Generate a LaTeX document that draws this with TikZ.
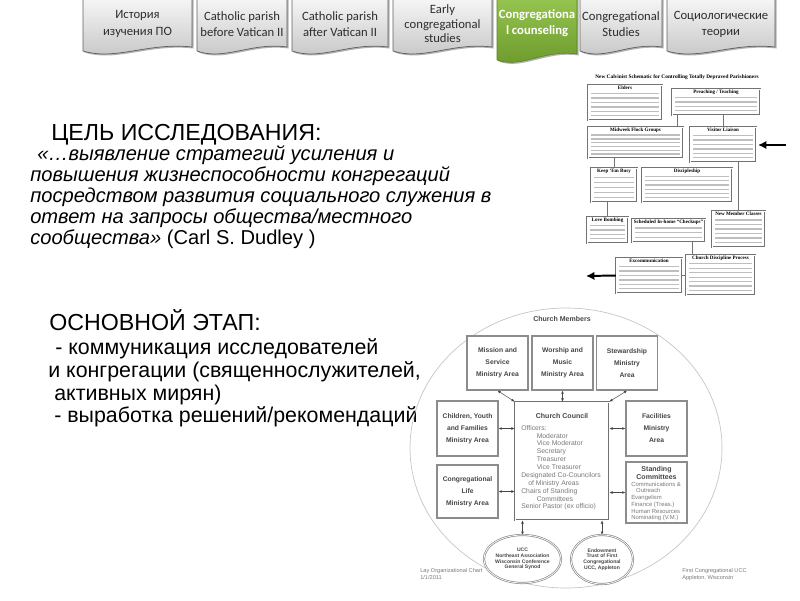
\documentclass[tikz,border=0pt]{standalone}
\usepackage{fontspec}
\setmainfont{Liberation Sans}
\newfontfamily\tabfont{Carlito}
\newfontfamily\schemfont{Liberation Serif}
\usetikzlibrary{arrows.meta,shapes.geometric,calc}
\definecolor{TabTop}{RGB}{246,246,246}
\definecolor{TabBottom}{RGB}{196,196,196}
\definecolor{TabEdge}{RGB}{95,95,95}
\definecolor{TabText}{RGB}{45,45,45}
\definecolor{GreenTop}{RGB}{150,196,80}
\definecolor{GreenBottom}{RGB}{106,152,42}
\definecolor{ChartEdge}{RGB}{140,140,140}
\definecolor{ChartText}{RGB}{70,70,70}
\definecolor{OfficerText}{RGB}{120,120,120}
\definecolor{SchemEdge}{RGB}{115,115,115}
\definecolor{SchemFill}{RGB}{190,190,190}
\tikzset{
    tabshape/.style={draw=TabEdge, line width=0.5pt, top color=TabTop, bottom color=TabBottom},
    tabshadow/.style={fill=black!30},
    greentab/.style={draw=GreenBottom!85!black, line width=0.4pt, top color=GreenTop, bottom color=GreenBottom},
    tablabel/.style={text=TabText, align=center, inner sep=0pt},
    greenlabel/.style={text=white, align=center, inner sep=0pt, font=\tabfont\bfseries\fontsize{9}{11.5}\selectfont},
    heading/.style={anchor=base west, inner sep=0pt, font=\fontsize{16.5}{18}\selectfont},
    quoteline/.style={anchor=base west, inner sep=0pt, font=\itshape\fontsize{14.3}{16}\selectfont},
    stageline/.style={anchor=base west, inner sep=0pt, font=\fontsize{15.2}{16}\selectfont},
    schembox/.style={draw=SchemEdge, line width=0.3pt, double=white, double distance=0.45pt, fill=white, inner sep=0pt},
    schemtitle/.style={inner sep=0pt, font=\schemfont\bfseries\fontsize{3.6}{4}\selectfont},
    filler/.style={draw=SchemFill, line width=0.95pt},
    schemline/.style={draw=SchemEdge, line width=0.4pt},
    bigarr/.style={-{Latex[length=6pt,width=6pt]}, line width=1.4pt, black},
    members/.style={ellipse, draw=gray!45, line width=0.5pt, inner sep=0pt, minimum width=312*0.025cm, minimum height=280*0.025cm},
    areabox/.style={draw=ChartEdge, line width=0.9pt, fill=white, align=center, inner sep=0pt, text=ChartText, font=\bfseries\fontsize{4.8}{8.5}\selectfont, minimum width=61*0.025cm, minimum height=54*0.025cm},
    councilbox/.style={draw=ChartEdge!80!black, line width=0.6pt, double=white, double distance=0.7pt, fill=white, inner sep=0pt, minimum width=94*0.025cm, minimum height=118*0.025cm},
    charttitle/.style={inner sep=0pt, align=center, text=ChartText, font=\bfseries\fontsize{5}{6}\selectfont},
    officers/.style={anchor=north west, align=left, inner sep=0pt, text=OfficerText, font=\fontsize{4.85}{5.6}\selectfont},
    committees/.style={anchor=north west, align=left, inner sep=0pt, text=OfficerText, font=\fontsize{4.2}{4.8}\selectfont},
    twoarr/.style={{Latex[length=2.2pt,width=2pt]}-{Latex[length=2.2pt,width=2pt]}, line width=0.35pt, ChartText},
    bodyoval/.style={ellipse, draw=ChartEdge, line width=0.5pt, double=white, double distance=0.5pt, fill=white, inner sep=0pt, align=center, text=ChartText, font=\bfseries\fontsize{3.6}{4.1}\selectfont, minimum width=61*0.025cm, minimum height=48*0.025cm},
    caption/.style={anchor=north west, align=left, inner sep=0pt, text=OfficerText, font=\fontsize{4}{5}\selectfont},
}
\newcommand\schem[7]{%
    \node[schembox, minimum width=#4*0.025cm, minimum height=#5*0.025cm] (#1) at (#2,#3) {};
    \node[schemtitle, anchor=north] (#1title) at ($(#1.north)+(0,1.2)$) {#6};
    \foreach \k in {1,...,#7}
        \draw[filler] ($(#1.north west)+(3.5,{4.5+\k*(#5-6)/(#7+0.6)})$) -- ($(#1.north east)+(-3.5,{4.5+\k*(#5-6)/(#7+0.6)})$);
}

\begin{document}
\begin{tikzpicture}[x=0.025cm, y=-0.025cm]
\useasboundingbox (0,0) rectangle (800,600);

\foreach \l/\r/\ls/\txt in {83/192/11.5/{История\\изучения ПО}, 197/287/11.5/{Catholic parish\\before Vatican II}, 292/388/11.5/{Catholic parish\\after Vatican II}, 393/492/10.3/{Early\\congregational\\studies}, 580/662/11.5/{Congregational\\Studies}, 667/775/11.5/{Социологические\\теории}}{
    \fill[tabshadow, shift={(1.5,1.5)}] (\l,-2) -- (\r,-2) -- (\r,47) .. controls ({\l+0.6*(\r-\l)},42) and ({\l+0.3*(\r-\l)},61) .. (\l,51) -- cycle;
    \draw[tabshape] (\l,-2) -- (\r,-2) -- (\r,47) .. controls ({\l+0.6*(\r-\l)},42) and ({\l+0.3*(\r-\l)},61) .. (\l,51) -- cycle;
    \node[tablabel, font=\tabfont\fontsize{9}{\ls}\selectfont] (tab\l) at ({(\l+\r)/2},24) {\txt};
}
\fill[tabshadow, shift={(1.5,1.5)}] (497,-2) -- (577,-2) -- (577,54) .. controls (545,49) and (521,69) .. (497,60) -- cycle;
\draw[greentab] (497,-2) -- (577,-2) -- (577,54) .. controls (545,49) and (521,69) .. (497,60) -- cycle;
\node[greenlabel] (tabgreen) at (537,23) {Congregationa\\l counseling};

\node[heading] (aimhead) at (51,140) {ЦЕЛЬ ИССЛЕДОВАНИЯ:};
\node[quoteline] (quote1) at (37,160) {«…выявление стратегий усиления и};
\node[quoteline] (quote2) at (30,181) {повышения жизнеспособности конгрегаций};
\node[quoteline] (quote3) at (30,202) {посредством развития социального служения в};
\node[quoteline] (quote4) at (30,223) {ответ на запросы общества/местного};
\node[quoteline] (quote5) at (30,244) {сообщества» {\upshape(Carl S. Dudley )}};

\node[heading] (stagehead) at (49,330) {ОСНОВНОЙ ЭТАП:};
\node[stageline] (stage1) at (55,354) {- коммуникация исследователей};
\node[stageline] (stage2) at (48,377) {и конгрегации (священнослужителей,};
\node[stageline] (stage3) at (54,400) {активных мирян)};
\node[stageline] (stage4) at (54,422) {- выработка решений/рекомендаций};

\node[schemtitle, font=\schemfont\bfseries\fontsize{3.8}{4}\selectfont] (schemhead) at (677,77) {New Calvinist Schematic for Controlling Totally Depraved Parishioners};
\schem{elders}{625}{102.5}{74}{35}{Elders}{6}
\schem{preach}{716}{102}{88}{26}{Preaching / Teaching}{4}
\schem{midweek}{635.5}{142.5}{95}{31}{Midweek Flock Groups}{6}
\schem{visitor}{723}{144.5}{66}{35}{Visitor Liaison}{6}
\schem{busy}{614}{185}{46}{34}{Keep ‘Em Busy}{5}
\schem{disciple}{687}{185}{90}{34}{Discipleship}{6}
\schem{newmem}{738.5}{229}{53}{36}{New Member Classes}{6}
\schem{lovebomb}{607.5}{230}{41}{26}{Love Bombing}{4}
\schem{checkups}{668.5}{230.5}{73}{23}{Scheduled In-home “Checkups”}{3}
\schem{excom}{649}{275.5}{66}{35}{Excommunication}{6}
\schem{discproc}{720.5}{275}{69}{40}{Church Discipline Process}{7}
\draw[schemline] ([xshift=-6*0.025cm]midweek.north east) -- ([xshift=-6*0.025cm]midweek.north east |- preach.south);
\draw[schemline] (visitor.north |- preach.south) -- (visitor.north);
\draw[schemline] (newmem.north |- visitor.south) -- (newmem.north);
\draw[schemline] (busy.north |- midweek.south) -- (busy.north);
\draw[schemline] (lovebomb.north |- busy.south) -- (lovebomb.north);
\draw[schemline] ([xshift=6*0.025cm]discproc.north west) -- ([xshift=6*0.025cm]discproc.north west |- checkups.south);
\draw[schemline] (excom.east) -- (discproc.west |- excom.east);
\coordinate (visitortip) at (758,145);
\coordinate (visitortail) at (786,145);
\draw[bigarr] (visitortail) -- (visitortip);
\coordinate (excomtip) at (586,276);
\draw[bigarr] (excom.west) -- (excomtip);

\node[members] (members) at (566,448) {};
\node[charttitle] (memberstitle) at (562,319) {Church Members};
\node[areabox] (mission) at (497.5,363) {Mission and\\Service\\Ministry Area};
\node[areabox] (worship) at (562.5,363) {Worship and\\Music\\Ministry Area};
\node[areabox] (steward) at (627,363) {Stewardship\\Ministry\\Area};
\node[areabox, minimum height=55*0.025cm] (children) at (467.5,428.5) {Children, Youth\\and Families\\Ministry Area};
\node[areabox, minimum height=55*0.025cm] (facil) at (656.5,428.5) {Facilities\\Ministry\\Area};
\node[areabox, minimum height=53*0.025cm] (conglife) at (467.5,491.5) {Congregational\\Life\\Ministry Area};
\node[areabox, minimum height=61*0.025cm] (standing) at (656.5,492.5) {};
\node[councilbox] (council) at (562,461) {};
\node[charttitle] (counciltitle) at (562,416) {Church Council};
\node[officers] (officerlist) at (521,425) {Officers:\\\hspace*{11pt}Moderator\\\hspace*{11pt}Vice Moderator\\\hspace*{11pt}Secretary\\\hspace*{11pt}Treasurer\\\hspace*{11pt}Vice Treasurer\\Designated Co-Councilors\\\hspace*{5pt}of Ministry Areas\\Chairs of Standing\\\hspace*{11pt}Committees\\Senior Pastor (ex officio)};
\node[charttitle, font=\bfseries\fontsize{5}{5.6}\selectfont] (standingtitle) at (656.5,473) {Standing\\Committees};
\node[committees] (committeelist) at (631,481.5) {Communications \&\\\hspace*{3.5pt}Outreach\\Evangelism\\Finance (Treas.)\\Human Resources\\Nominating (V.M.)};
\node[bodyoval] (ucc) at (522.5,559) {UCC\\Northeast Association\\Wisconsin Conference\\General Synod};
\node[bodyoval, minimum width=62*0.025cm, minimum height=49*0.025cm] (endow) at (602,559.5) {Endowment\\Trust of First\\Congregational\\UCC, Appleton};

\draw[twoarr] (mission.south) -- (council.north west);
\draw[twoarr] (worship.south) -- (worship.south |- council.north);
\draw[twoarr] (steward.south) -- (council.north east);
\draw[twoarr] (children.east) -- (council.west |- children.east);
\draw[twoarr] (conglife.east) -- (council.west |- conglife.east);
\draw[twoarr] (facil.west) -- (council.east |- facil.west);
\draw[twoarr] (standing.west) -- (council.east |- standing.west);
\draw[twoarr] (council.south -| ucc.north) -- (ucc.north);
\draw[twoarr] (council.south -| endow.north) -- (endow.north);

\node[caption] (laycaption) at (420,568) {Lay Organizational Chart\\1/1/2011};
\node[caption] (firstcaption) at (682,568) {First Congregational UCC\\Appleton, Wisconsin};
\end{tikzpicture}
\end{document}
